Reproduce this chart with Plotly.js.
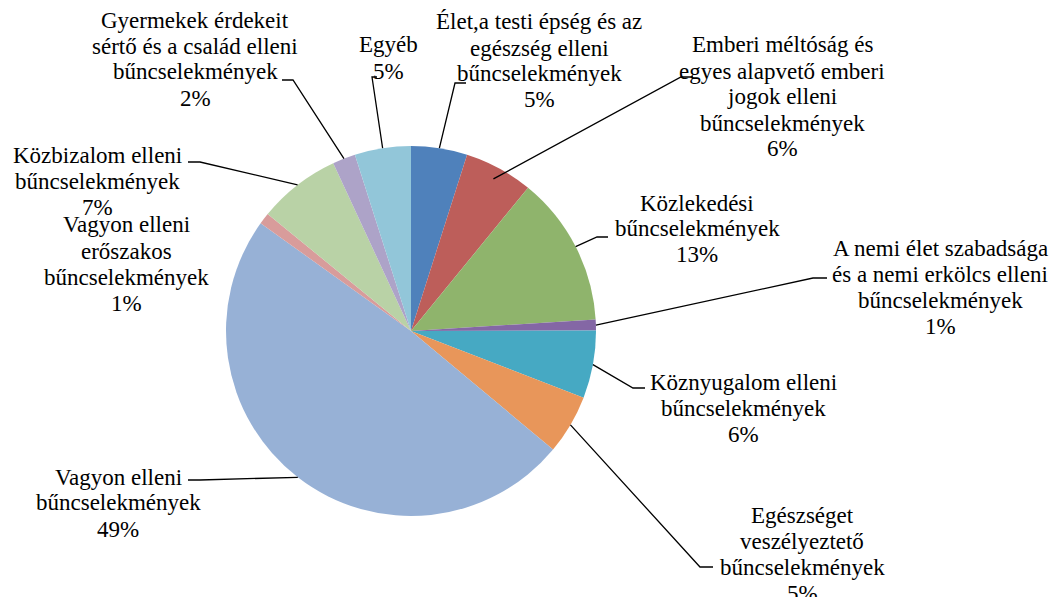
<!DOCTYPE html>
<html>
<head>
<meta charset="utf-8">
<script src="https://cdn.plot.ly/plotly-3.0.1.min.js"></script>
<style>
html,body{margin:0;padding:0;background:#fff;}
#chart{width:1051px;height:597px;}
#chart text, #chart tspan { font-family: "Liberation Serif", "Times New Roman", serif !important; }
</style>
</head>
<body>
<div id="chart"></div>
<script>
// ---- data ----
const categories = [
  "Élet,a testi épség és az<br>egészség elleni<br>bűncselekmények",
  "Emberi méltóság és<br>egyes alapvető emberi<br>jogok elleni<br>bűncselekmények",
  "Közlekedési<br>bűncselekmények",
  "A nemi élet szabadsága<br>és a nemi erkölcs elleni<br>bűncselekmények",
  "Köznyugalom elleni<br>bűncselekmények",
  "Egészséget<br>veszélyeztető<br>bűncselekmények",
  "Vagyon elleni<br>bűncselekmények",
  "Vagyon elleni<br>erőszakos<br>bűncselekmények",
  "Közbizalom elleni<br>bűncselekmények",
  "Gyermekek érdekeit<br>sértő és a család elleni<br>bűncselekmények",
  "Egyéb"
];
const values = [4.9, 6.0, 13.1, 0.95, 5.9, 5.2, 48.8, 1.0, 7.2, 2.0, 4.9];
const colors = ["#4F81BB", "#BD5E5A", "#8FB46C", "#8467A5", "#46A9C3", "#E8965A",
                "#97B1D6", "#D89C9B", "#B9D2A6", "#ADA3C8", "#92C6D9"];

// ---- layout (pixels) ----
const W = 1051, H = 597;
const CX = 411, CY = 331, R = 185;
const LINE = 26;
// [center x, first line centre y]
const labelPos = [[539,22],[782,45],[697,203],[940,248],[743,382],[802,515],[118,477],[126,225],[97,155],[195,20],[388,45]];
// leader stub: [text-side point, elbow point] or null
const stubs = [
  [[466,83],[455,83]],
  [[693,77],[681,77]],
  [[608,237],[597,237]],
  [[827,278],[813,278]],
  [[645,388],[633,388]],
  [[713,567],[700,567]],
  [[188,480],[200,480]],
  null,
  [[188,162],[200,162]],
  [[282,80],[293,80]],
  [[377,77],[372,77]]
];
// how far inside the rim each leader line ends (px)
const leaderInset = [0, 12, 0, 0, 0, 0, 0, 0, 0, 0, 0];

const px = x => x / W;
const py = y => 1 - y / H;
const FAMILY = "Liberation Serif";
const FSIZE = 23;

const total = values.reduce((a,b)=>a+b,0);
const annotations = [];
const shapes = [];
let cum = 0;
values.forEach((v, i) => {
  const mid = (cum + v/2) / total * 2 * Math.PI;
  cum += v;
  const pct = Math.round(v / total * 100) + "%";
  const lines = categories[i].split("<br>").concat([pct]);
  const [lx, ly] = labelPos[i];
  lines.forEach((t, k) => {
    annotations.push({
      xref: "paper", yref: "paper", x: px(lx), y: py(ly + k*LINE),
      xanchor: "center", yanchor: "middle", showarrow: false,
      text: t, font: {family: FAMILY, size: FSIZE, color: "#000"}
    });
  });
  if (stubs[i]) {
    const rr = R - leaderInset[i];
    const ex = CX + rr * Math.sin(mid), ey = CY - rr * Math.cos(mid);
    const [a, b] = stubs[i];
    shapes.push({
      type: "path", xref: "paper", yref: "paper",
      path: `M ${px(a[0])} ${py(a[1])} L ${px(b[0])} ${py(b[1])} L ${px(ex)} ${py(ey)}`,
      line: {color: "#000", width: 1.3}
    });
  }
});

const trace = {
  type: "pie",
  values: values,
  labels: categories.map(c => c.replace(/<br>/g, " ")),
  sort: false,
  direction: "clockwise",
  rotation: 0,
  textinfo: "none",
  hoverinfo: "none",
  marker: {colors: colors, line: {width: 0}},
  domain: {x: [px(CX - R), px(CX + R)], y: [py(CY + R), py(CY - R)]},
  showlegend: false
};

Plotly.newPlot("chart", [trace], {
  width: W, height: H,
  margin: {l:0, r:0, t:0, b:0},
  paper_bgcolor: "#fff",
  showlegend: false,
  annotations: annotations,
  shapes: shapes
}, {staticPlot: true});
</script>
</body>
</html>
